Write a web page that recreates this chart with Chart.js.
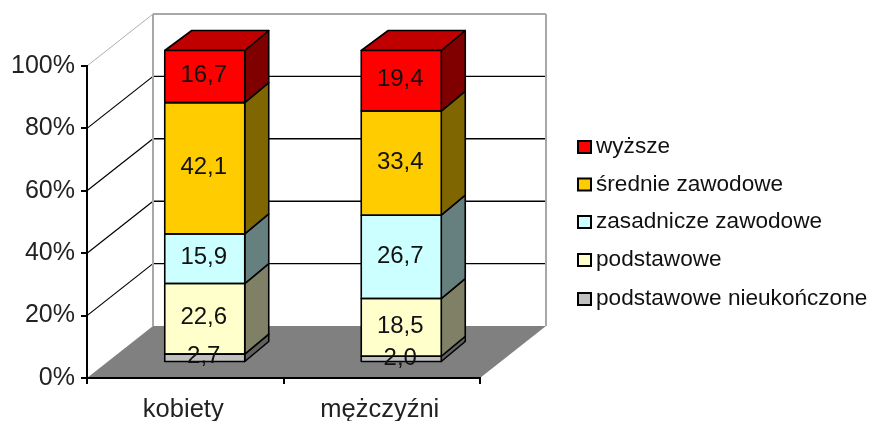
<!DOCTYPE html>
<html lang="pl">
<head>
<meta charset="utf-8">
<title>Wykształcenie</title>
<style>html,body{margin:0;padding:0;background:#fff}canvas{display:block;filter:blur(0.4px)}</style>
<script src="https://cdn.jsdelivr.net/npm/chart.js@4/dist/chart.umd.min.js"></script>
</head>
<body>
<canvas id="c" width="869" height="421"></canvas>
<script>
const categories = ["kobiety", "mężczyźni"];
const podstawoweNieukonczone = [2.7, 2.0];
const podstawowe = [22.6, 18.5];
const zasadniczeZawodowe = [15.9, 26.7];
const srednieZawodowe = [42.1, 33.4];
const wyzsze = [16.7, 19.4];
const seriesNames = ["podstawowe nieukończone", "podstawowe", "zasadnicze zawodowe", "średnie zawodowe", "wyższe"];
const frontColors = ["#c0c0c0", "#ffffcc", "#ccffff", "#ffcc00", "#ff0000"];
const sideColors = ["#606060", "#808066", "#668080", "#806600", "#800000"];
const topColor = "#c00000";
const font = "Liberation Sans, Arial, sans-serif";

const WALL = {dx: 66, dy: -52};
const BAR = {dx: 19.5, dy: -15.5};
const SIDE = {dx: 24, dy: -20};
const fmt = v => v.toFixed(1).replace(".", ",");

function poly(ctx, pts, fill, stroke, lw) {
  ctx.beginPath();
  pts.forEach((p, i) => i ? ctx.lineTo(p[0], p[1]) : ctx.moveTo(p[0], p[1]));
  ctx.closePath();
  if (fill) { ctx.fillStyle = fill; ctx.fill(); }
  if (stroke) { ctx.strokeStyle = stroke; ctx.lineWidth = lw || 1; ctx.stroke(); }
}
function line(ctx, x0, y0, x1, y1, color, lw) {
  ctx.beginPath(); ctx.moveTo(x0, y0); ctx.lineTo(x1, y1);
  ctx.strokeStyle = color; ctx.lineWidth = lw; ctx.stroke();
}

const scene = {
  id: "scene",
  beforeDraw(chart) {
    const {ctx, chartArea: a, scales: {y}} = chart;
    ctx.save();
    ctx.fillStyle = "#fff";
    ctx.fillRect(0, 0, chart.width, chart.height);
    const bx = a.left + WALL.dx, rx = a.right + WALL.dx;
    const floorY = y.getPixelForValue(0), backFloor = floorY + WALL.dy;
    poly(ctx, [[a.left, floorY], [bx, backFloor], [rx, backFloor], [a.right, floorY]], "#808080");
    y.ticks.forEach(t => {
      if (t.value === 0) return;
      const py = y.getPixelForValue(t.value);
      const c = t.value === 100 ? "#b0b0b0" : "#000";
      line(ctx, a.left, py, bx, py + WALL.dy, c, t.value === 100 ? 1 : 1.2);
      line(ctx, bx, py + WALL.dy, rx, py + WALL.dy, t.value === 100 ? "#a8a8a8" : "#000", t.value === 100 ? 2 : 1.4);
    });
    const topBack = y.getPixelForValue(100) + WALL.dy;
    line(ctx, bx, topBack, bx, backFloor, "#a8a8a8", 2);
    line(ctx, rx, topBack, rx, backFloor, "#a8a8a8", 2);
    ctx.restore();
  },
  beforeDatasetsDraw(chart) {
    const {ctx} = chart;
    ctx.save();
    ctx.translate(BAR.dx, BAR.dy);
    ctx.lineJoin = "round";
    chart.data.datasets.forEach((ds, i) => {
      chart.getDatasetMeta(i).data.forEach(el => {
        const {x, y, base, width} = el.getProps(["x", "y", "base", "width"], true);
        const r = x + width / 2, l = x - width / 2;
        poly(ctx, [[r, y], [r + SIDE.dx, y + SIDE.dy], [r + SIDE.dx, base + SIDE.dy], [r, base]], sideColors[i], "#000", 1.6);
        if (i === chart.data.datasets.length - 1) {
          poly(ctx, [[l, y], [l + SIDE.dx + 3, y + SIDE.dy], [r + SIDE.dx, y + SIDE.dy], [r, y]], topColor, "#000", 1.6);
        }
      });
    });
  },
  afterDatasetsDraw(chart) {
    const {ctx} = chart;
    chart.data.datasets.forEach((ds, i) => {
      chart.getDatasetMeta(i).data.forEach(el => {
        const {x, y, base, width} = el.getProps(["x", "y", "base", "width"], true);
        const l = x - width / 2, r = x + width / 2;
        poly(ctx, [[l, y], [r, y], [r, base], [l, base]], null, "#000", 1.6);
      });
    });
    chart.data.datasets.forEach((ds, i) => {
      chart.getDatasetMeta(i).data.forEach((el, j) => {
        const {x, y, base} = el.getProps(["x", "y", "base"], true);
        ctx.font = "24px " + font;
        ctx.fillStyle = "#111";
        ctx.textAlign = "center";
        ctx.textBaseline = "middle";
        ctx.fillText(fmt(ds.data[j]), x - 1, (y + base) / 2 - 1);
      });
    });
    ctx.restore();
    ctx.save();
    const rows = [147, 184.5, 222, 260, 299];
    const names = seriesNames.slice().reverse();
    const fills = frontColors.slice().reverse();
    names.forEach((n, k) => {
      poly(ctx, [[578, rows[k] - 6], [591, rows[k] - 6], [591, rows[k] + 6], [578, rows[k] + 6]], fills[k], "#000", 2);
      ctx.font = "22.6px " + font;
      ctx.fillStyle = "#111";
      ctx.textAlign = "left";
      ctx.textBaseline = "middle";
      ctx.fillText(n, 596, rows[k]);
    });
    ctx.restore();
  }
};

const seriesValues = [podstawoweNieukonczone, podstawowe, zasadniczeZawodowe, srednieZawodowe, wyzsze];

new Chart(document.getElementById("c"), {
  type: "bar",
  data: {
    labels: categories,
    datasets: seriesValues.map((data, i) => ({
      label: seriesNames[i],
      data,
      backgroundColor: frontColors[i],
      borderWidth: 0,
      barPercentage: 1,
      categoryPercentage: 80 / 196.5,
      clip: false
    }))
  },
  options: {
    responsive: false,
    animation: false,
    layout: {padding: {top: 66, right: 389, left: 0, bottom: 0}},
    plugins: {legend: {display: false}, tooltip: {enabled: false}},
    scales: {
      x: {
        stacked: true,
        afterFit(s) { s.height = 43; },
        grid: {drawOnChartArea: false, color: "#000", lineWidth: 2, tickLength: 6, offset: true},
        border: {color: "#000", width: 2},
        ticks: {color: "#222", font: {family: font, size: 25.5}, padding: 11, maxRotation: 0, labelOffset: -2}
      },
      y: {
        stacked: true,
        min: 0, max: 100,
        afterFit(s) { s.width = 87; },
        grid: {drawOnChartArea: false, color: "#000", lineWidth: 2, tickLength: 6},
        border: {color: "#000", width: 2},
        ticks: {stepSize: 20, color: "#222", font: {family: font, size: 25}, padding: 6, callback: v => v + "%"}
      }
    }
  },
  plugins: [scene]
});
</script>
</body>
</html>
